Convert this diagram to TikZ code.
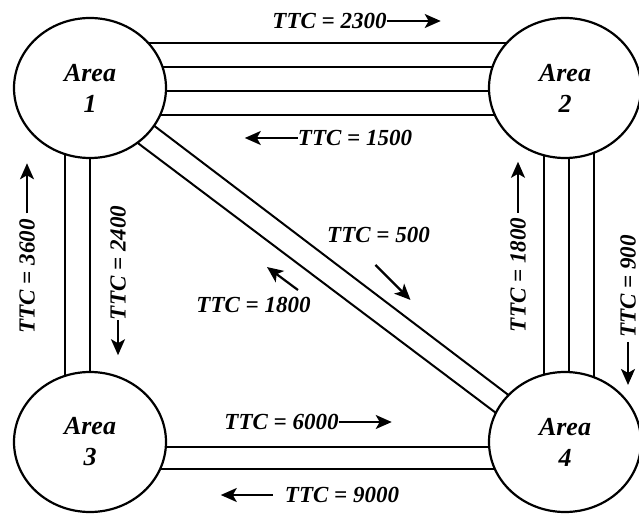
\documentclass[tikz,border=0pt]{standalone}
\usepackage{fontspec}
\setmainfont{Liberation Serif}
\usetikzlibrary{shapes.geometric,arrows.meta,calc,backgrounds}

\tikzset{
  area/.style={draw, ellipse, line width=2.2pt, fill=white, minimum width=152pt,
    minimum height=140pt, inner sep=0pt, align=center,
    font=\fontsize{26}{31}\selectfont\bfseries\itshape},
  ttc/.style={inner sep=0pt, font=\fontsize{23}{27}\selectfont\bfseries\itshape},
  tip/.style={-{Stealth[length=16pt,width=14pt,inset=4pt]}, line width=2.2pt},
  tie/.style={line width=2pt},
}

\begin{document}
\begin{tikzpicture}[x=1pt,y=-1pt]
\useasboundingbox (0,0) rectangle (639,521);
% areas
\node[area] (a1) at (90,88) {Area\\1};
\node[area] (a2) at (565,88) {Area\\2};
\node[area] (a3) at (90,442) {Area\\3};
\node[area] (a4) at (565,442) {Area\\4};
% tie lines
\begin{pgfonlayer}{background}
\foreach \dy in {-45,-21,3,27} \draw[tie] ($(a1)+(0,\dy)$) -- ($(a2)+(0,\dy)$);
\foreach \dx in {-25,0} \draw[tie] ($(a1)+(\dx,0)$) -- ($(a3)+(\dx,0)$);
\foreach \dx in {-21,4,29} \draw[tie] ($(a2)+(\dx,0)$) -- ($(a4)+(\dx,0)$);
\foreach \dy in {5,27} \draw[tie] ($(a3)+(0,\dy)$) -- ($(a4)+(0,\dy)$);
\draw[tie] ($(a1)+(0,-11)$) -- ($(a4)+(0,-4)$);
\draw[tie] ($(a1)+(0,19)$) -- ($(a4)+(0,23)$);
\end{pgfonlayer}
% transfer capabilities
\node[ttc] (t12) at (329.5,21) {TTC = 2300};
\draw[tip] (t12.east) -- ++(54,0);
\node[ttc] (t21) at (355,138) {TTC = 1500};
\draw[tip] (t21.west) -- ++(-53,0);
\node[ttc,rotate=90] (t31) at (27,276.5) {TTC = 3600};
\draw[tip] (t31.east) ++(0,-6) -- ++(0,-50);
\node[ttc,rotate=90] (t13) at (118,263) {TTC = 2400};
\draw[tip] (t13.west) -- ++(0,35);
\node[ttc,rotate=90] (t42) at (518,275) {TTC = 1800};
\draw[tip] (t42.east) ++(0,-5) -- ++(0,-51);
\node[ttc,rotate=90] (t24) at (628,286.5) {TTC = 900};
\draw[tip] (t24.west) ++(0,4) -- ++(0,43);
\node[ttc] (t14) at (378.5,235) {TTC = 500};
\draw[tip] ($(t14.south)+(-3,22)$) -- ++(35,35);
\node[ttc] (t41) at (253.5,305) {TTC = 1800};
\draw[tip] ($(t41.north)+(44.5,-7)$) -- ++(-31,-23);
\node[ttc] (t34) at (281.5,422) {TTC = 6000};
\draw[tip] (t34.east) -- ++(53,0);
\node[ttc] (t43) at (342,495) {TTC = 9000};
\draw[tip] ($(t43.west)+(-12,0)$) -- ++(-52,0);
\end{tikzpicture}
\end{document}
